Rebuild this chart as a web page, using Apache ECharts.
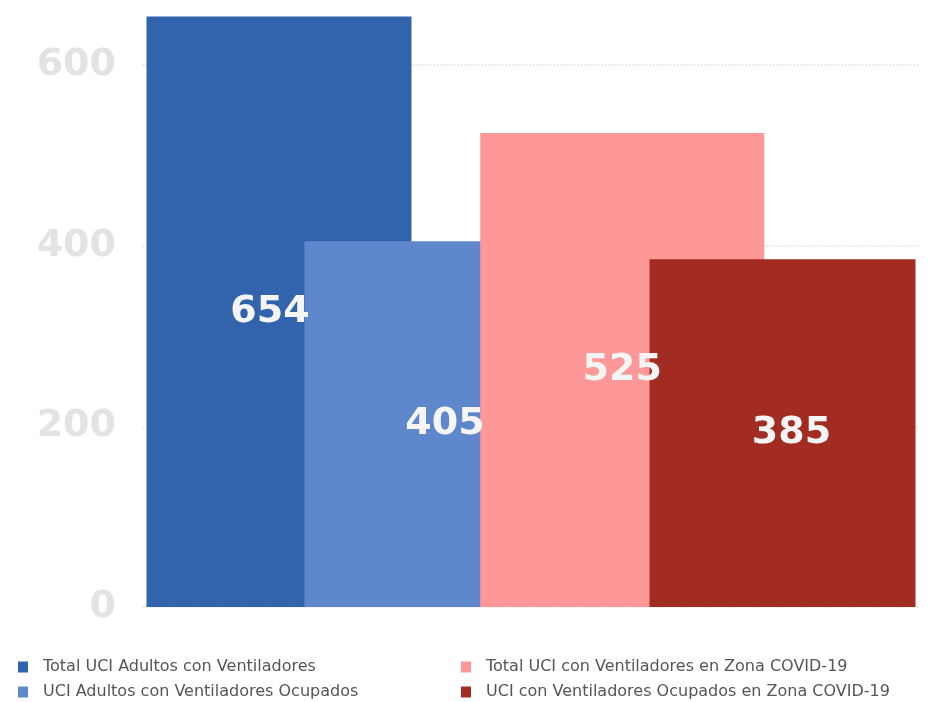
<!DOCTYPE html>
<html>
<head>
<meta charset="utf-8">
<style>
  html, body { margin: 0; padding: 0; background: #fff; }
  #chart { width: 938px; height: 702px; }
</style>
<script src="https://cdn.jsdelivr.net/npm/echarts@6/dist/echarts.min.js"></script>
</head>
<body>
<div id="chart"></div>
<script>
const categories = ['UCI']
const seriesNames = [
  'Total UCI Adultos con Ventiladores',
  'UCI Adultos con Ventiladores Ocupados',
  'Total UCI con Ventiladores en Zona COVID-19',
  'UCI con Ventiladores Ocupados en Zona COVID-19'
]
const seriesValues = [654, 405, 525, 385]
const yTicks = [0, 200, 400, 600]

const colors = ['#3263ad', '#5f88cc', '#fe9797', '#a22b22']
const widths = [265, 295, 284, 266]
const labelShift = [-9, -7, 0, 9]

const chart = echarts.init(document.getElementById('chart'))

const series = seriesNames.map((name, i) => ({
  name: name,
  type: 'bar',
  data: [seriesValues[i]],
  barWidth: widths[i],
  barGap: '-40.4%',
  itemStyle: { color: colors[i] },
  label: {
    show: true,
    position: 'inside',
    offset: [labelShift[i], 0],
    color: '#f5f5f5',
    fontFamily: 'DejaVu Sans',
    fontWeight: 'bold',
    fontSize: 38
  }
}))

// two stacked columns of legend entries, like the original
function legendBlock(left, names) {
  return {
    orient: 'vertical',
    left: left,
    top: 654,
    height: 60,
    icon: 'rect',
    itemWidth: 10,
    itemHeight: 11,
    itemGap: 9,
    textStyle: {
      fontFamily: 'DejaVu Sans',
      fontSize: 16,
      color: '#555',
      padding: [0, 0, 0, 10]
    },
    data: names
  }
}

chart.setOption({
  backgroundColor: '#fff',
  animation: false,
  grid: { left: 143, right: 19, top: 11, bottom: 95 },
  legend: [
    legendBlock(13, [seriesNames[0], seriesNames[1]]),
    legendBlock(456, [seriesNames[2], seriesNames[3]])
  ],
  xAxis: {
    type: 'category',
    data: categories,
    axisLine: { show: false },
    axisTick: { show: false },
    axisLabel: { show: false }
  },
  yAxis: {
    type: 'value',
    min: yTicks[0],
    max: 660,
    interval: 200,
    axisLine: { show: false },
    axisTick: { show: false },
    axisLabel: {
      margin: 27,
      showMaxLabel: false,
      color: '#e3e3e3',
      fontFamily: 'DejaVu Sans',
      fontWeight: 'bold',
      fontSize: 38,
      formatter: v => (yTicks.indexOf(v) >= 0 ? String(v) : '')
    },
    splitLine: {
      showMaxLine: false,
      lineStyle: { color: '#dedede', type: 'dotted', width: 1.5 }
    }
  },
  series: series
})
</script>
</body>
</html>
